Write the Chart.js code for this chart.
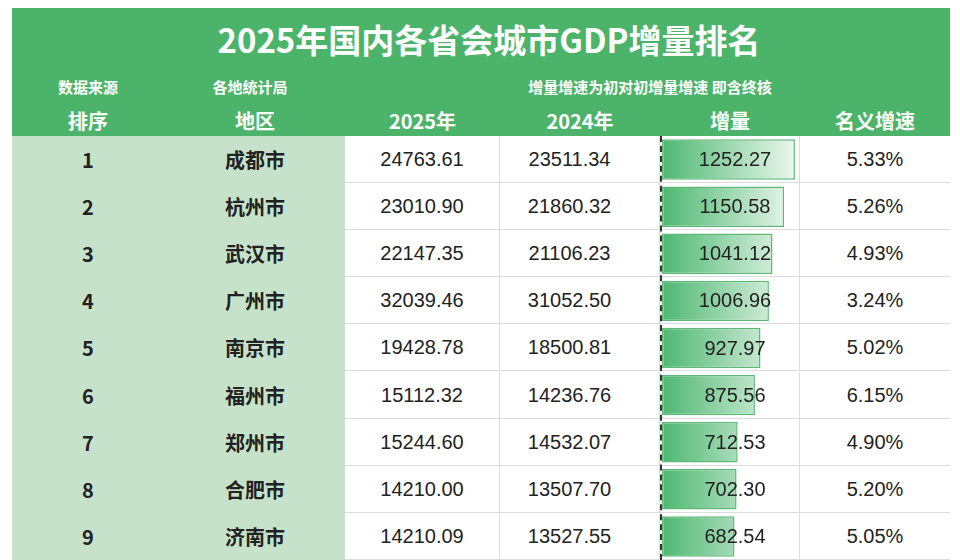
<!DOCTYPE html>
<html>
<head>
<meta charset="utf-8">
<script src="https://cdn.jsdelivr.net/npm/chart.js@4"></script>
<style>
  body { margin: 0; background: #fff; font-family: "Noto Sans CJK SC", "Noto Sans", sans-serif; }
  #wrap { position: relative; width: 960px; height: 560px; overflow: hidden; }
  .hdr { position: absolute; left: 12px; top: 8px; width: 938px; height: 128px; background: #4cb46a; }
  .lgbg { position: absolute; left: 12px; top: 136px; width: 333px; height: 424px; background: #c7e2cb; }
  .t { position: absolute; color: #fff; text-align: center; font-weight: bold; }
  .cell { position: absolute; height: 47px; line-height: 47px; text-align: center; font-size: 20px; color: #222;
          box-sizing: border-box; border-bottom: 1px solid #dcdcdc; }
  .num { font-family: "Liberation Sans", Arial, sans-serif; border-right: 1px solid #dcdcdc; }
  .lg { font-weight: bold; border-bottom: none; }
  #barBox { position: absolute; left: 662px; top: 136px; width: 138px; height: 424px; }
  #dash { position: absolute; left: 660px; top: 136px; height: 424px; border-left: 2px dashed #333; }
</style>
</head>
<body>
<div id="wrap">
  <div class="hdr"></div>
  <div class="lgbg"></div>
  <div class="t" style="left:20px;width:938px;top:15px;font-size:33px;">2025年国内各省会城市GDP增量排名</div>
  <div class="t" style="left:28px;width:120px;top:76px;font-size:15px;">数据来源</div>
  <div class="t" style="left:180px;width:140px;top:76px;font-size:15px;">各地统计局</div>
  <div class="t" style="left:470px;width:360px;top:76px;font-size:15px;">增量增速为初对初增量增速 即含终核</div>
  <div class="t" style="left:28px;width:120px;top:106px;font-size:20px;">排序</div>
  <div class="t" style="left:185px;width:140px;top:106px;font-size:20px;">地区</div>
  <div class="t" style="left:345px;width:155px;top:106px;font-size:20px;">2025年</div>
  <div class="t" style="left:500px;width:160px;top:106px;font-size:20px;">2024年</div>
  <div class="t" style="left:660px;width:140px;top:106px;font-size:20px;">增量</div>
  <div class="t" style="left:800px;width:150px;top:106px;font-size:20px;">名义增速</div>
  <div id="rows"></div>
  <div id="barBox"><canvas id="incChart"></canvas></div>
  <div id="dash"></div>
</div>
<script>
const cities = ['成都市', '杭州市', '武汉市', '广州市', '南京市', '福州市', '郑州市', '合肥市', '济南市'];
const gdp2025 = ['24763.61', '23010.90', '22147.35', '32039.46', '19428.78', '15112.32', '15244.60', '14210.00', '14210.09'];
const gdp2024 = ['23511.34', '21860.32', '21106.23', '31052.50', '18500.81', '14236.76', '14532.07', '13507.70', '13527.55'];
const increments = [1252.27, 1150.58, 1041.12, 1006.96, 927.97, 875.56, 712.53, 702.30, 682.54];
const growth = ['5.33%', '5.26%', '4.93%', '3.24%', '5.02%', '6.15%', '4.90%', '5.20%', '5.05%'];

// table cells
const rowsEl = document.getElementById('rows');
const rowH = 47.1;
cities.forEach((city, i) => {
    const top = 136 + i * rowH;
    rowsEl.innerHTML += `
      <div class="cell lg" style="left:12px;width:152px;top:${top}px;">${i + 1}</div>
      <div class="cell lg" style="left:180px;width:150px;top:${top}px;">${city}</div>
      <div class="cell num" style="left:345px;width:155px;top:${top}px;">${gdp2025[i]}</div>
      <div class="cell num" style="left:500px;width:160px;top:${top}px;"><span style="margin-left:-20px">${gdp2024[i]}</span></div>
      <div class="cell num" style="left:660px;width:140px;top:${top}px;"></div>
      <div class="cell num" style="left:800px;width:150px;top:${top}px;border-right:none;">${growth[i]}</div>`;
});

// value labels on top of data bars
const valueLabels = {
    id: 'valueLabels',
    afterDatasetsDraw(chart) {
        const { ctx, chartArea } = chart;
        const meta = chart.getDatasetMeta(0);
        ctx.save();
        ctx.font = '20px "Liberation Sans", Arial, sans-serif';
        ctx.fillStyle = '#222';
        ctx.textAlign = 'center';
        ctx.textBaseline = 'middle';
        meta.data.forEach((bar, i) => {
            ctx.fillText(increments[i].toFixed(2), (chartArea.left + chartArea.right) / 2 + 4, bar.y + 1);
        });
        ctx.restore();
    }
};

const ctx = document.getElementById('incChart').getContext('2d');
new Chart(ctx, {
    type: 'bar',
    data: {
        labels: cities,
        datasets: [{
            data: increments,
            backgroundColor: (c) => {
                const area = c.chart.chartArea;
                if (!area) return '#5cbf7c';
                const g = c.chart.ctx.createLinearGradient(area.left, 0, area.left + 135, 0);
                g.addColorStop(0, '#4fb872');
                g.addColorStop(1, '#eef8f0');
                return g;
            },
            borderColor: '#5fb878',
            borderWidth: 1.5,
            borderSkipped: false,
            categoryPercentage: 0.86,
            barPercentage: 1
        }]
    },
    options: {
        indexAxis: 'y',
        responsive: true,
        maintainAspectRatio: false,
        animation: false,
        layout: { padding: 0 },
        scales: {
            x: { display: false, min: 0, max: 1300 },
            y: { display: false }
        },
        plugins: { legend: { display: false }, tooltip: { enabled: false } }
    },
    plugins: [valueLabels]
});
</script>
</body>
</html>
